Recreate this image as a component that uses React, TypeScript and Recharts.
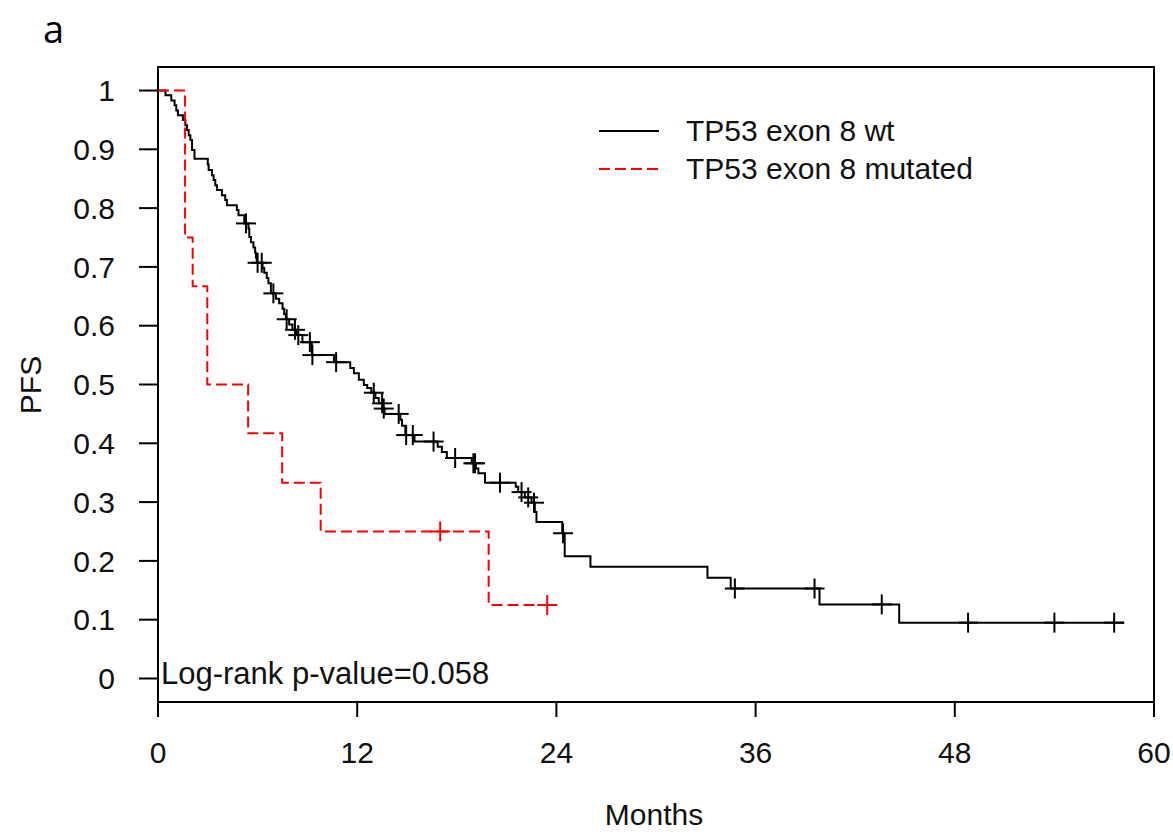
import React from "react";
import { ComposedChart, Line, Scatter, XAxis, YAxis, ReferenceArea } from "recharts";

const xTicks = [0, 12, 24, 36, 48, 60];
const yTicks = [0, 0.1, 0.2, 0.3, 0.4, 0.5, 0.6, 0.7, 0.8, 0.9, 1];

// TP53 exon 8 wt: step times (months) and survival after each step
const wtTimes = [
  0, 0.45, 0.8, 1.0, 1.1, 1.2, 1.5, 1.65, 1.75, 1.85, 1.95, 2.05, 2.2, 3.0, 3.05, 3.25, 3.35, 3.45, 3.55,
  3.85, 4.05, 4.15, 4.75, 4.85, 5.2, 5.45, 5.5, 5.6, 5.75, 5.85, 5.9, 5.95, 6.3, 6.4, 6.55, 6.65, 6.8,
  7.1, 7.3, 7.5, 7.6, 7.7, 7.9, 8.1, 8.35, 8.7, 9.27, 10.6, 11.58, 11.8, 12.1, 12.4, 12.6, 12.85, 13.1,
  13.3, 13.55, 13.65, 14.6, 14.7, 14.9, 15.45, 16.85, 17.1, 17.4, 18.9, 19.15, 19.3, 19.7, 21.55, 21.7,
  22.1, 22.5, 22.7, 22.8, 24.35, 24.5, 26.05, 33.1, 34.5, 39.85, 44.65, 58.2,
];
const wtSurv = [
  1, 0.992, 0.983, 0.975, 0.966, 0.958, 0.95, 0.941, 0.933, 0.924, 0.916, 0.899, 0.884, 0.874, 0.865,
  0.856, 0.848, 0.839, 0.831, 0.822, 0.814, 0.805, 0.797, 0.788, 0.774, 0.765, 0.751, 0.742, 0.733,
  0.724, 0.716, 0.707, 0.698, 0.69, 0.681, 0.672, 0.655, 0.646, 0.638, 0.629, 0.62, 0.611, 0.602,
  0.593, 0.584, 0.572, 0.55, 0.538, 0.528, 0.519, 0.508, 0.499, 0.494, 0.486, 0.477, 0.468, 0.459,
  0.45, 0.44, 0.43, 0.414, 0.403, 0.394, 0.385, 0.375, 0.366, 0.357, 0.349, 0.333, 0.326, 0.317,
  0.308, 0.299, 0.283, 0.266, 0.247, 0.208, 0.19, 0.1715, 0.153, 0.126, 0.095, 0.095,
];
const wtCensorTimes = [
  5.3, 6.0, 6.25, 6.95, 7.75, 8.25, 8.45, 9.15, 9.3, 10.73, 13.0, 13.5, 13.6, 14.5, 14.95, 15.35, 16.6,
  17.9, 19.0, 19.1, 20.6, 21.9, 22.3, 22.65, 24.4, 34.75, 39.55, 43.6, 48.8, 54.0, 57.6,
];
const wtCensorSurv = [
  0.774, 0.707, 0.707, 0.655, 0.611, 0.593, 0.584, 0.572, 0.55, 0.538, 0.486, 0.468, 0.459, 0.45,
  0.414, 0.414, 0.403, 0.375, 0.366, 0.366, 0.333, 0.317, 0.308, 0.299, 0.247, 0.153, 0.153, 0.126,
  0.095, 0.095, 0.095,
];

// TP53 exon 8 mutated
const mutTimes = [0, 1.63, 2.09, 2.97, 5.43, 7.48, 9.8, 19.92, 23.45];
const mutSurv = [1, 0.75, 0.667, 0.5, 0.417, 0.333, 0.25, 0.125, 0.125];
const mutCensorTimes = [17.0, 23.45];
const mutCensorSurv = [0.25, 0.125];

const seriesNames = ["TP53 exon 8 wt", "TP53 exon 8 mutated"];

const wtCurve = wtTimes.map((t, i) => ({ t, s: wtSurv[i] }));
const wtCensors = wtCensorTimes.map((t, i) => ({ t, s: wtCensorSurv[i] }));
const mutCurve = mutTimes.map((t, i) => ({ t, s: mutSurv[i] }));
const mutCensors = mutCensorTimes.map((t, i) => ({ t, s: mutCensorSurv[i] }));

const FONT = "'Liberation Sans', Arial, sans-serif";

const makeCross = (color: string) => (props: any) => {
  const { cx, cy } = props;
  if (cx == null || cy == null) return <g />;
  return (
    <g>
      <line x1={cx - 10} x2={cx + 10} y1={cy} y2={cy} stroke={color} strokeWidth={2} />
      <line x1={cx} x2={cx} y1={cy - 10} y2={cy + 10} stroke={color} strokeWidth={2} />
    </g>
  );
};

const App = () => {
  return (
    <div style={{ position: "absolute", left: 0, top: 0, width: 1173, height: 834, background: "#fff", fontFamily: FONT }}>
      <div style={{ position: "absolute", left: 43, top: 2, fontSize: 38, fontFamily: "'Open Sans', sans-serif", color: "#000" }}>a</div>
      <ComposedChart width={1173} height={834} margin={{ top: 67, right: 19, bottom: 0, left: 0 }}>
        <XAxis
          type="number"
          dataKey="t"
          domain={[0, 60]}
          ticks={xTicks}
          allowDataOverflow
          height={132}
          axisLine={false}
          tickSize={15}
          tickMargin={25}
          tickLine={{ stroke: "#000", strokeWidth: 2 }}
          tick={{ fill: "#111", fontSize: 30, fontFamily: FONT }}
          label={{
            content: () => (
              <text x={654} y={825} textAnchor="middle" fontSize={30} fontFamily={FONT} fill="#111">
                Months
              </text>
            ),
          }}
        />
        <YAxis
          type="number"
          dataKey="s"
          domain={[-0.04, 1.04]}
          ticks={yTicks}
          allowDataOverflow
          width={158}
          axisLine={false}
          tickSize={19}
          tickMargin={24}
          tickLine={{ stroke: "#000", strokeWidth: 2 }}
          tick={{ fill: "#111", fontSize: 30, fontFamily: FONT }}
          tickFormatter={(v: number) => String(Math.round(v * 10) / 10)}
          label={{
            content: () => (
              <text
                x={30}
                y={385}
                transform="rotate(-90 30 385)"
                textAnchor="middle"
                dominantBaseline="central"
                fontSize={30}
                fontFamily={FONT}
                fill="#111"
              >
                PFS
              </text>
            ),
          }}
        />
        <ReferenceArea x1={0} x2={60} y1={-0.04} y2={1.04} fill="none" stroke="#000" strokeWidth={2} />
        <Line
          data={wtCurve}
          dataKey="s"
          type="stepAfter"
          stroke="#000"
          strokeWidth={2}
          dot={false}
          activeDot={false}
          isAnimationActive={false}
        />
        <Line
          data={mutCurve}
          dataKey="s"
          type="stepAfter"
          stroke="#ff0000"
          strokeWidth={2}
          strokeDasharray="11 5"
          dot={false}
          activeDot={false}
          isAnimationActive={false}
        />
        <Scatter data={wtCensors} dataKey="s" shape={makeCross("#000")} isAnimationActive={false} />
        <Scatter data={mutCensors} dataKey="s" shape={makeCross("#ff0000")} isAnimationActive={false} />
      </ComposedChart>
      <div style={{ position: "absolute", left: 599, top: 112, fontSize: 30, color: "#111", lineHeight: "38px" }}>
        {seriesNames.map((name, i) => (
          <div key={name} style={{ display: "flex", alignItems: "center", height: 38 }}>
            <svg width={60} height={4} style={{ marginRight: 27 }}>
              <line
                x1={0}
                x2={60}
                y1={2}
                y2={2}
                stroke={i === 0 ? "#000" : "#ff0000"}
                strokeWidth={2}
                strokeDasharray={i === 0 ? undefined : "11 5"}
              />
            </svg>
            <span>{name}</span>
          </div>
        ))}
      </div>
      <div style={{ position: "absolute", left: 161, top: 656, fontSize: 31, color: "#111", whiteSpace: "nowrap" }}>
        Log-rank p-value=0.058
      </div>
    </div>
  );
};

export default App;
